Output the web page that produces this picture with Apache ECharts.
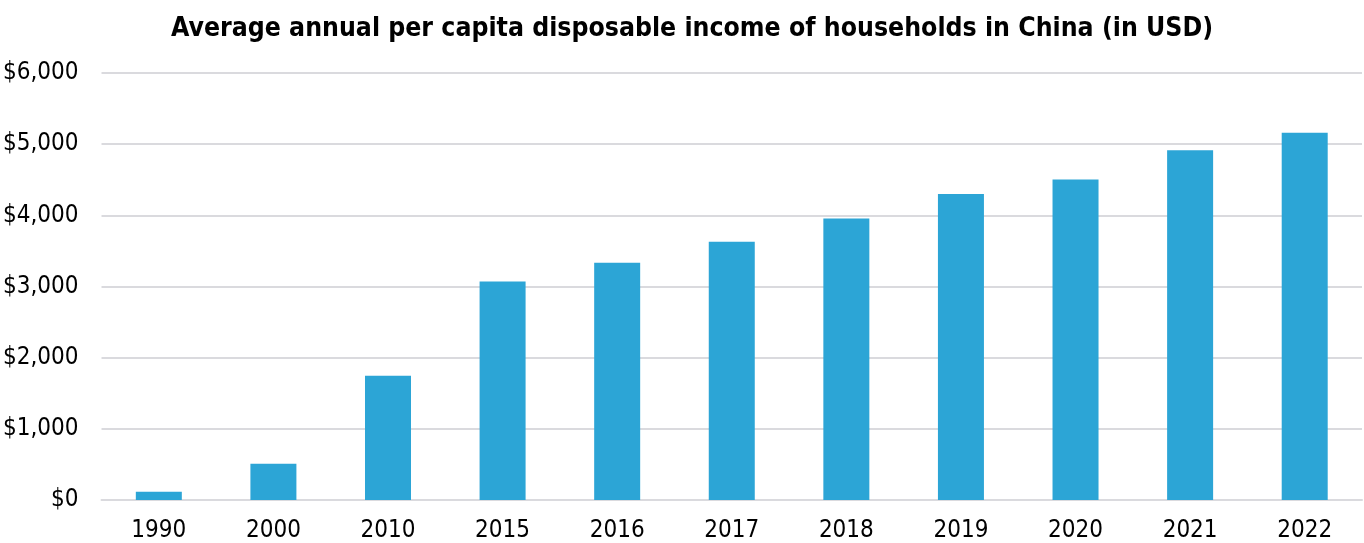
<!DOCTYPE html>
<html>
<head>
<meta charset="utf-8">
<script src="https://cdn.jsdelivr.net/npm/echarts@6/dist/echarts.min.js"></script>
<style>
html,body{margin:0;padding:0;background:#fff;}
#chart{width:1364px;height:543px;}
</style>
</head>
<body>
<div id="chart"></div>
<script>
const titleText = 'Average annual per capita disposable income of households in China (in USD)';
const categories = ['1990','2000','2010','2015','2016','2017','2018','2019','2020','2021','2022'];
const incomeValues = [115, 510, 1745, 3070, 3335, 3630, 3955, 4300, 4505, 4915, 5160];

const FONT = '"Liberation Sans Narrow", "DejaVu Sans Condensed", sans-serif';
const chart = echarts.init(document.getElementById('chart'));
chart.setOption({
  animation: false,
  backgroundColor: '#ffffff',
  title: {
    text: titleText,
    left: 687,
    textAlign: 'center',
    top: 11,
    textStyle: {fontFamily: FONT, fontWeight: 'bold', fontSize: 26.4, color: '#000'}
  },
  grid: {left: 101, right: 2, top: 73, bottom: 42},
  xAxis: {
    type: 'category',
    data: categories,
    axisLine: {show: true, lineStyle: {color: '#dadade', width: 2}},
    axisTick: {show: false},
    axisLabel: {fontFamily: FONT, fontSize: 24, color: '#000', margin: 19}
  },
  yAxis: {
    type: 'value',
    min: 0, max: 6000, interval: 1000,
    axisLine: {show: false},
    axisTick: {show: false},
    splitLine: {lineStyle: {color: '#dadade', width: 2}},
    axisLabel: {
      fontFamily: FONT, fontSize: 24, color: '#000', margin: 23,
      formatter: v => '$' + v.toLocaleString('en-US')
    }
  },
  series: [{
    type: 'bar',
    data: incomeValues,
    barWidth: 46,
    itemStyle: {color: '#2ca5d6'}
  }]
});
</script>
</body>
</html>
